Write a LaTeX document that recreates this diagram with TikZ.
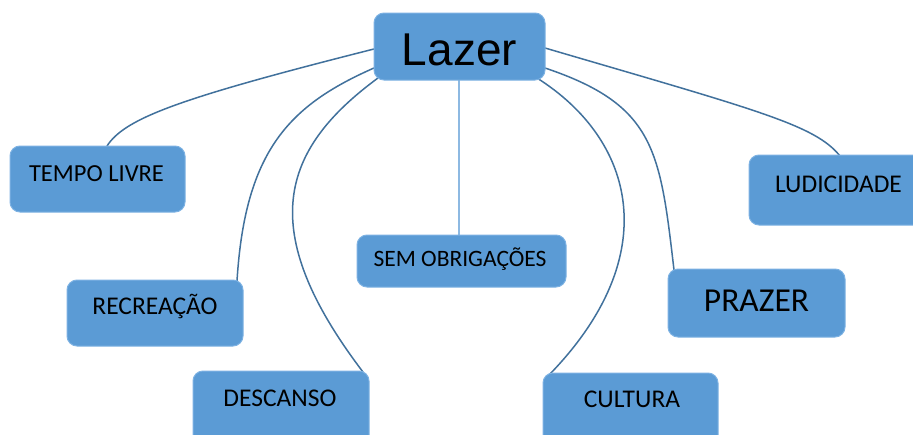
\documentclass[tikz,border=0pt]{standalone}
\usepackage{fontspec}
\setmainfont{Carlito}
\newfontfamily\lazerfont{Liberation Sans}
\definecolor{boxblue}{HTML}{5B9BD5}
\definecolor{boxedge}{HTML}{7DB2E3}
\definecolor{linkblue}{HTML}{41719C}
\definecolor{lightlink}{HTML}{8DB9E2}
\begin{document}
\begin{tikzpicture}[x=1pt,y=-1pt,
  box/.style={draw=boxedge,line width=1pt,fill=boxblue,rounded corners=10pt},
  lbl/.style={anchor=base,inner sep=0pt,font=\fontsize{25.5}{28}\selectfont,text=black},
  link/.style={draw=linkblue,line width=1.5pt},
  thinlink/.style={draw=lightlink,line width=1.2pt}]
\clip (0,0) rectangle (913,434);
\fill[white] (0,0) rectangle (913,434);
% connectors
\coordinate (a1) at (374,49);
\coordinate (a2) at (374,68);
\coordinate (a3) at (378,78);
\coordinate (a4) at (459,80);
\coordinate (a5) at (537,78);
\coordinate (a6) at (545,68);
\coordinate (a7) at (545,48);
\coordinate (b1) at (107,146);
\coordinate (b2) at (237,281);
\coordinate (b3) at (363,372);
\coordinate (b4) at (459,235);
\coordinate (b5) at (550,374);
\coordinate (b6) at (674,270);
\coordinate (b7) at (840,156);
\draw[link] (a1) .. controls (180,98) and (125,118) .. (b1);
\draw[link] (a2) .. controls (290,105) and (245,150) .. (b2);
\draw[link] (a3) .. controls (280,150) and (255,230) .. (b3);
\draw[thinlink] (a4) -- (b4);
\draw[link] (a5) .. controls (635,140) and (665,255) .. (b5);
\draw[link] (a6) .. controls (655,105) and (660,150) .. (b6);
\draw[link] (a7) .. controls (760,111) and (815,125) .. (b7);
% boxes
\path[box] (374,13) rectangle (545,80);
\node[lbl,font=\fontsize{46}{50}\selectfont\lazerfont] (lazer) at (459.5,65) {Lazer};
\path[box] (10,146) rectangle (185,212);
\node[lbl,font=\fontsize{24.5}{28}\selectfont] (tempo) at (96.5,181) {TEMPO LIVRE};
\path[box] (67,280) rectangle (243,346);
\node[lbl] (recre) at (155,314) {RECREAÇÃO};
\path[box] (193,371) rectangle (369,450);
\node[lbl] (desc) at (280,406) {DESCANSO};
\path[box] (357,235) rectangle (566,287);
\node[lbl,font=\fontsize{23.5}{28}\selectfont] (sem) at (460,266) {SEM OBRIGAÇÕES};
\path[box] (543,373) rectangle (718,450);
\node[lbl] (cult) at (632,407) {CULTURA};
\path[box] (668,269) rectangle (845,337);
\node[lbl,font=\fontsize{33.5}{36}\selectfont] (praz) at (756.5,311) {PRAZER};
\path[box] (749,155) rectangle (930,225);
\node[lbl] (ludi) at (838.5,192) {LUDICIDADE};
\end{tikzpicture}
\end{document}
